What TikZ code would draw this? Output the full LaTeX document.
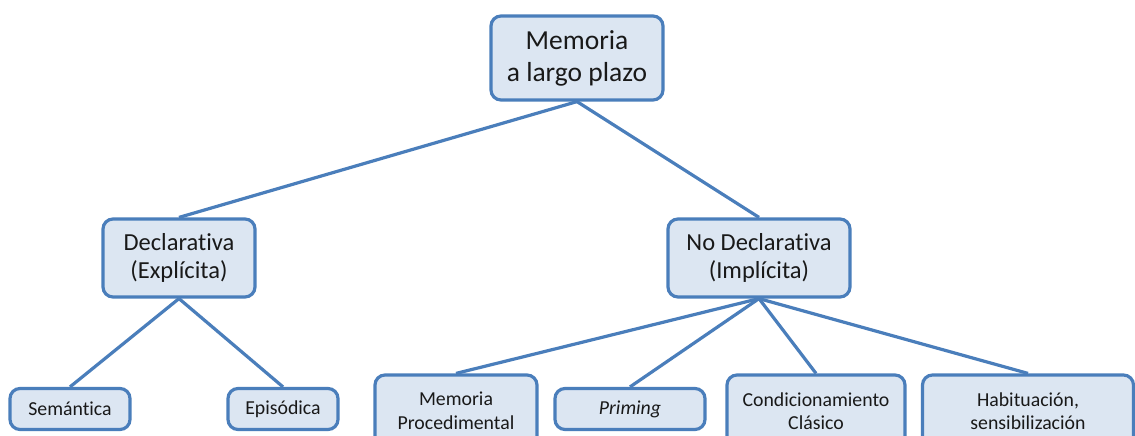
\documentclass[tikz,border=0pt]{standalone}
\usepackage{fontspec}
\setmainfont{Carlito}[Ligatures=NoCommon]
\usetikzlibrary{positioning}
\definecolor{boxline}{HTML}{4A7EBB}
\definecolor{boxfill}{HTML}{DCE6F2}
\tikzset{
  box/.style={draw=boxline, fill=boxfill, line width=3.2pt, rounded corners=10pt,
    align=center, inner sep=0pt, text=black!90},
  big/.style={box, font=\fontsize{27.5}{32}\selectfont},
  mid/.style={box, font=\fontsize{24.5}{28}\selectfont},
  small/.style={box, font=\fontsize{19.8}{23.5}\selectfont},
  link/.style={draw=boxline, line width=3.2pt}
}
\begin{document}
\begin{tikzpicture}[x=1pt, y=-1pt]
  \clip (0,0) rectangle (1135,436);
  \useasboundingbox (0,0) rectangle (1135,436);
  \fill[white] (0,0) rectangle (1135,436);
  % top
  \node[big, minimum width=172pt, minimum height=84pt] (mem) at (577,58) {Memoria\\a largo plazo};
  % middle
  \node[mid, minimum width=152pt, minimum height=78pt] (decl) at (179,258) {Declarativa\\(Explícita)};
  \node[mid, minimum width=182pt, minimum height=78pt] (nodecl) at (759,258) {No Declarativa\\(Implícita)};
  % bottom
  \node[small, minimum width=120pt, minimum height=41pt] (sem) at (70,409) {Semántica};
  \node[small, minimum width=110pt, minimum height=41pt] (epi) at (283,409) {Episódica};
  \node[small, minimum width=162pt, minimum height=72pt] (proc) at (456,411) {Memoria\\Procedimental};
  \node[small, minimum width=150pt, minimum height=41pt] (prim) at (630,409) {\itshape Priming};
  \node[small, minimum width=178pt, minimum height=72pt] (cond) at (816,411) {Condicionamiento\\Clásico};
  \node[small, minimum width=211pt, minimum height=72pt] (habit) at (1028,411) {Habituación,\\sensibilización};
  % links
  \draw[link] (mem.south) -- (decl.north);
  \draw[link] (mem.south) -- (nodecl.north);
  \draw[link] (decl.south) -- (sem.north);
  \draw[link] (decl.south) -- (epi.north);
  \draw[link] (nodecl.south) -- (proc.north);
  \draw[link] (nodecl.south) -- (prim.north);
  \draw[link] (nodecl.south) -- (cond.north);
  \draw[link] (nodecl.south) -- (habit.north);
\end{tikzpicture}
\end{document}
